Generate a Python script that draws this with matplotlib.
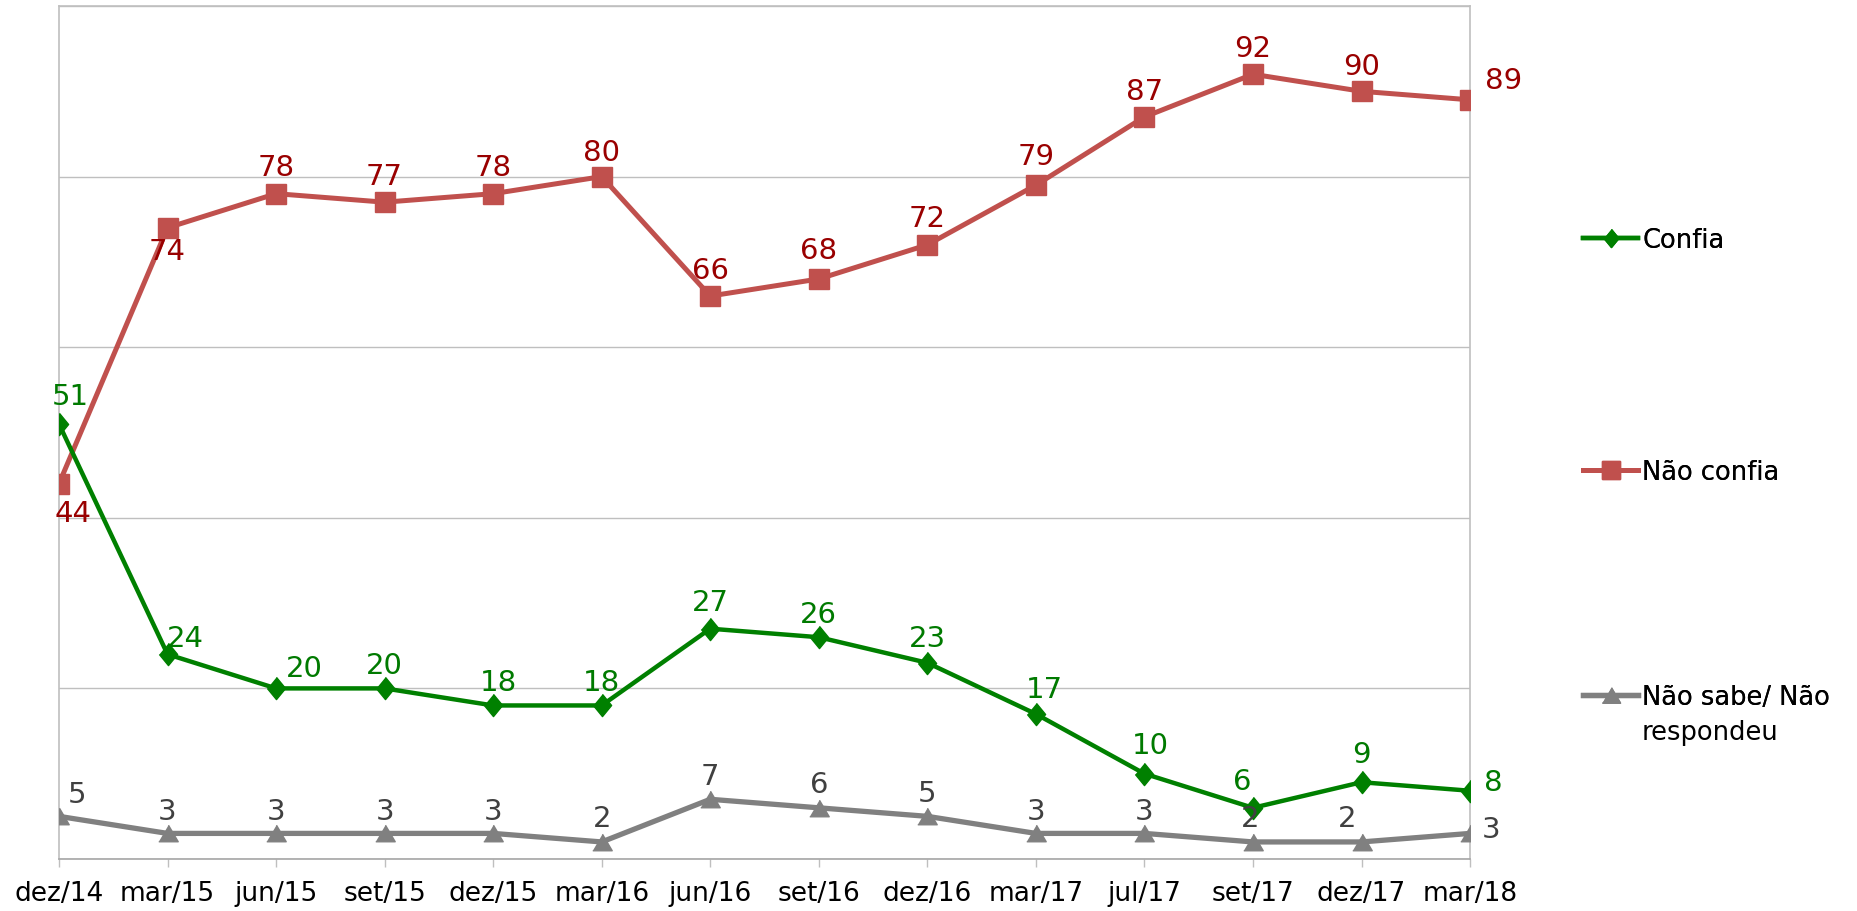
import matplotlib
matplotlib.use("Agg")
import matplotlib.pyplot as plt
from matplotlib.lines import Line2D

periods = ["dez/14", "mar/15", "jun/15", "set/15", "dez/15", "mar/16", "jun/16",
           "set/16", "dez/16", "mar/17", "jul/17", "set/17", "dez/17", "mar/18"]
confia = [51, 24, 20, 20, 18, 18, 27, 26, 23, 17, 10, 6, 9, 8]
nao_confia = [44, 74, 78, 77, 78, 80, 66, 68, 72, 79, 87, 92, 90, 89]
nao_sabe = [5, 3, 3, 3, 3, 2, 7, 6, 5, 3, 3, 2, 2, 3]

# label placement (offset in points) - styling only
off_confia = [(8, 20), (13, 12), (20, 15), (0, 17), (4, 17), (0, 17), (0, 19),
              (0, 17), (0, 18), (6, 18), (4, 21), (-8, 19), (0, 20), (17, 6)]
off_nconf = [(10, -21), (0, -17), (0, 19), (0, 19), (0, 19), (0, 18), (0, 19),
             (0, 21), (0, 19), (0, 21), (0, 19), (0, 19), (0, 18), (24, 14)]
off_ns = [(13, 16), (0, 16), (0, 16), (0, 16), (0, 16), (0, 17), (0, 17),
          (0, 17), (0, 17), (0, 16), (0, 16), (-2, 17), (-10, 17), (15, 3)]

plt.rcParams['font.family'] = ['DejaVu Sans']

fig = plt.figure(figsize=(18.58, 9.12), dpi=100)
ax = fig.add_axes([0.03175, 0.05702, 0.7912 - 0.03175, 0.99232 - 0.05702])

x = list(range(len(periods)))
c_green, c_red, c_gray = "#008000", "#C0504D", "#808080"
diamond = [(0, 1), (0.82, 0), (0, -1), (-0.82, 0)]
tri = [(0, 0.85), (1, -0.85), (-1, -0.85)]

ax.plot(x, nao_sabe, color=c_gray, lw=3.8, marker=tri, ms=14, zorder=3)
ax.plot(x, nao_confia, color=c_red, lw=3.6, marker="s", ms=14.5, zorder=3)
ax.plot(x, confia, color=c_green, lw=3.2, marker=diamond, ms=16, zorder=4)

def labels(vals, offs, color):
    for xi, v, (dx, dy) in zip(x, vals, offs):
        ax.annotate(str(v), (xi, v), xytext=(dx, dy), textcoords="offset points",
                    ha="center", va="center", fontsize=21, color=color, zorder=5,
                    annotation_clip=False)

labels(confia, off_confia, "#007A00")
labels(nao_confia, off_nconf, "#990000")
labels(nao_sabe, off_ns, "#404040")

ax.set_xlim(0, len(periods) - 1)
ax.set_ylim(0, 100)
ax.set_yticks([0, 20, 40, 60, 80, 100])
ax.set_yticklabels([])
ax.tick_params(axis="y", length=0)
ax.set_xticks(x)
ax.set_xticklabels(periods, fontsize=19)
ax.tick_params(axis="x", length=5.8, width=1, color="#BFBFBF", direction="out", pad=9)
ax.grid(axis="y", color="#BFBFBF", lw=1)
ax.set_axisbelow(True)
for s in ax.spines.values():
    s.set_color("#BFBFBF")
    s.set_linewidth(1.2)
ax.spines["bottom"].set_color("#A6A6A6")

handles = [
    Line2D([], [], color=c_green, lw=3.2, marker=diamond, ms=13),
    Line2D([], [], color=c_red, lw=3.6, marker="s", ms=13),
    Line2D([], [], color=c_gray, lw=3.8, marker=tri, ms=13),
]
ys = [0.7357, 0.4814, 0.2346]
names_first = ["Confia", "Não confia", "Não sabe/ Não"]
for h, name, yy in zip(handles, names_first, ys):
    lg = fig.legend([h], [name], loc="center left", bbox_to_anchor=(0.852, yy),
                    frameon=False, fontsize=18.5, handlelength=2.14, handletextpad=0.16,
                    borderpad=0, borderaxespad=0)
    fig.add_artist(lg)
fig.text(0.8837, 0.196, "respondeu", fontsize=18.5, va="center", ha="left")

fig.savefig("out.png", dpi=100)
